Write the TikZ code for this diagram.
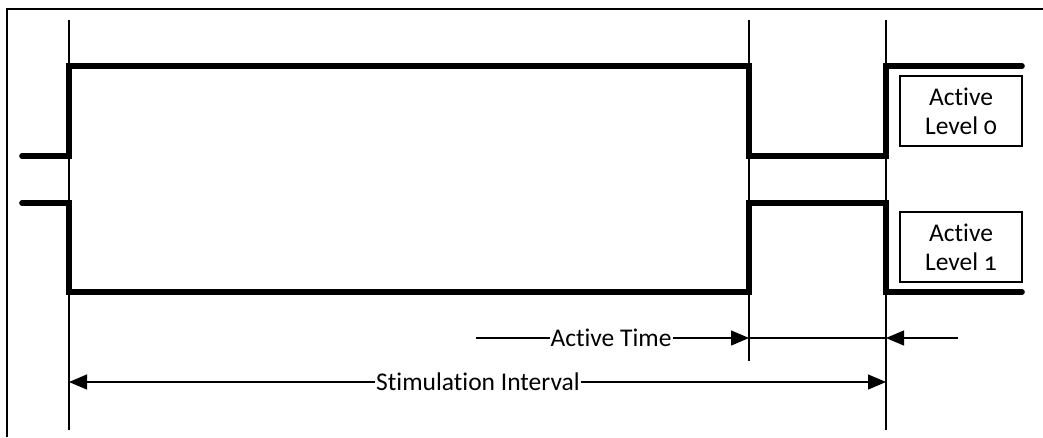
\documentclass[tikz,border=0pt]{standalone}
\usepackage{fontspec}
\setmainfont{Carlito}[Numbers=OldStyle,Ligatures=NoCommon]
\usetikzlibrary{arrows.meta}
\begin{document}
\begin{tikzpicture}[x=1pt,y=-1pt,
  thin line/.style={line width=1.6pt,black},
  signal/.style={line width=5.6pt,black,line cap=round,line join=miter},
  dim/.style={line width=1.2pt,black},
  tip/.style={-{Triangle[length=18pt,width=15pt]}},
  label/.style={font=\fontsize{25.5}{29}\selectfont,inner sep=1pt},
  lvlbox/.style={draw,line width=1.2pt,minimum width=122pt,minimum height=70pt,align=center,font=\fontsize{25.5}{29}\selectfont,inner sep=0pt}]
\useasboundingbox (0,0) rectangle (1043,437);
% frame
\draw[line width=1.2pt] (7,437) -- (7,9) -- (1043,9);
% time markers
\coordinate (t0top) at (69,20); \coordinate (t0bot) at (69,430);
\coordinate (t1top) at (749,20); \coordinate (t1bot) at (749,361);
\coordinate (t2top) at (886,20); \coordinate (t2bot) at (886,430);
\draw[thin line] (t0top) -- (t0bot);
\draw[thin line] (t1top) -- (t1bot);
\draw[thin line] (t2top) -- (t2bot);
% signals
\coordinate (a0) at (22,156); \coordinate (a5) at (1022,66);
\coordinate (b0) at (22,203); \coordinate (b5) at (1022,292);
\draw[signal] (a0) -- (69,156) -- (69,66) -- (749,66) -- (749,156) -- (886,156) -- (886,66) -- (a5);
\draw[signal] (b0) -- (69,203) -- (69,292) -- (749,292) -- (749,203) -- (886,203) -- (886,292) -- (b5);
% level boxes
\node[lvlbox] (lv0) at (961,111) {Active\\Level 0};
\node[lvlbox] (lv1) at (961,247) {Active\\Level 1};
% Active Time
\coordinate (atL) at (476,338);
\coordinate (atA) at (749,338);
\coordinate (atB) at (886,338);
\coordinate (atR) at (958,338);
\draw[dim,tip] (atL) -- (atA);
\draw[dim] (atA) -- (atB);
\draw[dim,tip] (atR) -- (atB);
\node[label,fill=white] (at) at (611,338) {Active Time};
% Stimulation Interval
\coordinate (siL) at (69,382);
\coordinate (siR) at (886,382);
\draw[dim,{Triangle[length=18pt,width=15pt]}-{Triangle[length=18pt,width=15pt]}] (siL) -- (siR);
\node[label,fill=white] (si) at (478,382) {Stimulation Interval};
\end{tikzpicture}
\end{document}
